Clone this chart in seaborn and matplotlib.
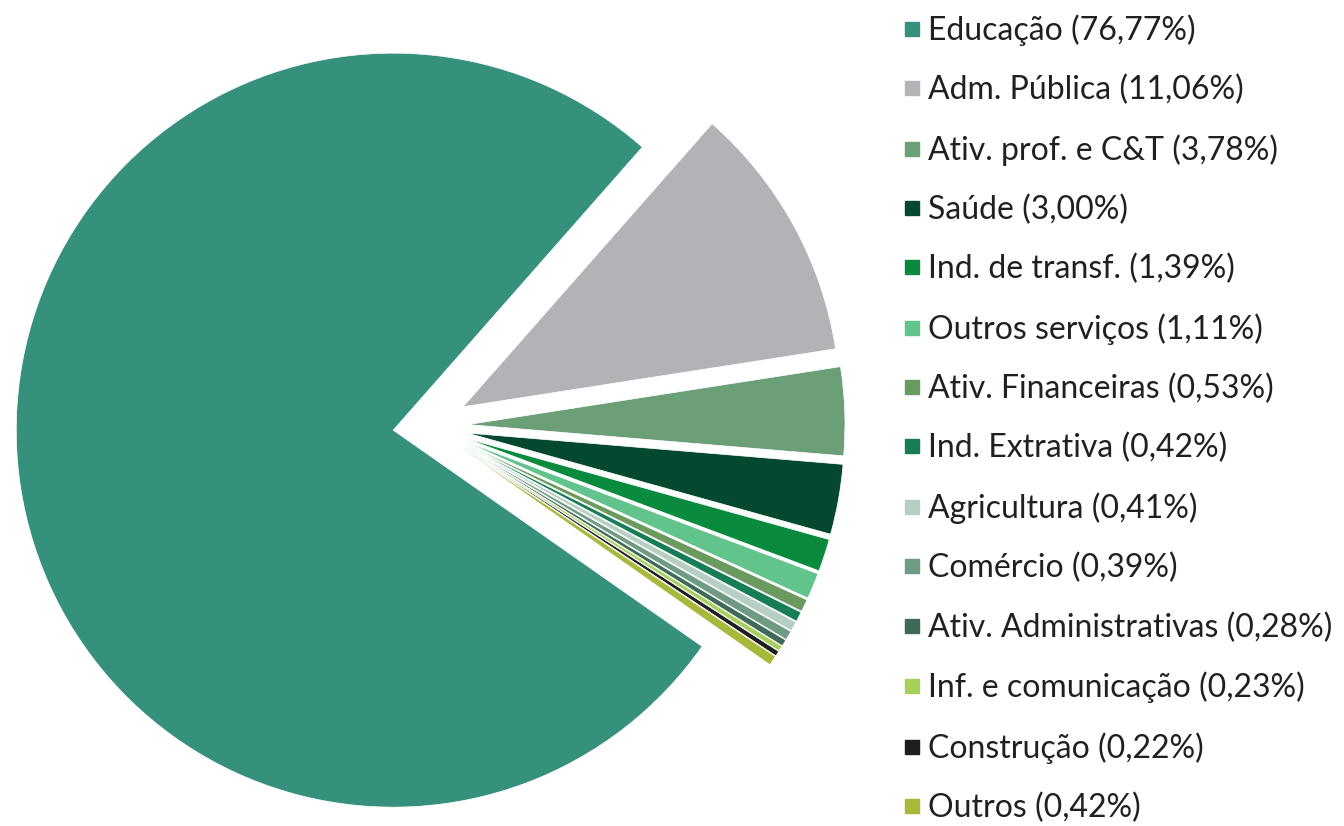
import matplotlib
matplotlib.use("Agg")
import matplotlib.pyplot as plt
import seaborn as sns
from matplotlib.lines import Line2D

sns.set_theme(style="white")
plt.rcParams['font.family'] = ['Lato', 'DejaVu Sans']

categories = ["Educação", "Adm. Pública", "Ativ. prof. e C&T", "Saúde",
              "Ind. de transf.", "Outros serviços", "Ativ. Financeiras",
              "Ind. Extrativa", "Agricultura", "Comércio",
              "Ativ. Administrativas", "Inf. e comunicação", "Construção", "Outros"]
shares = [76.77, 11.06, 3.78, 3.00, 1.39, 1.11, 0.53, 0.42, 0.41, 0.39,
          0.28, 0.23, 0.22, 0.42]
labels = ["Educação (76,77%)", "Adm. Pública (11,06%)", "Ativ. prof. e C&T (3,78%)",
          "Saúde (3,00%)", "Ind. de transf. (1,39%)", "Outros serviços (1,11%)",
          "Ativ. Financeiras (0,53%)", "Ind. Extrativa (0,42%)", "Agricultura (0,41%)",
          "Comércio (0,39%)", "Ativ. Administrativas (0,28%)",
          "Inf. e comunicação (0,23%)", "Construção (0,22%)", "Outros (0,42%)"]
colors = ["#36917C", "#B1B3B6", "#6A9F78", "#03482F", "#0A8A3F", "#62C48C",
          "#6B9A5E", "#177D56", "#B7CFC3", "#6F9A83", "#3F6A58", "#A6D05A",
          "#1E1E1E", "#A8B83A"]

W, H = 1344, 826
fig = plt.figure(figsize=(W / 100, H / 100), dpi=100)
ax = fig.add_axes([0, 0, 1, 1])

R_px = 377.0
cx, cy = 428.0, 426.0  # pie centre in image pixels (y from top)
explode = [35 / R_px] + [40 / R_px] * (len(shares) - 1)

ax.pie(shares, colors=colors, explode=explode, startangle=-35,
       counterclock=False, radius=1.0, center=(0, 0),
       wedgeprops=dict(edgecolor="white", linewidth=0.5))
ax.set_xlim(-cx / R_px, (W - cx) / R_px)
ax.set_ylim(-(H - cy) / R_px, cy / R_px)
ax.set_aspect("auto")
ax.axis("off")

handles = [Line2D([0], [0], marker="s", linestyle="none", markersize=10.5,
                  markerfacecolor=c, markeredgecolor=c) for c in colors]
leg = fig.legend(handles, labels, loc="upper left",
                 bbox_to_anchor=(899 / W, 1 - 11 / H),
                 frameon=False, fontsize=23, labelspacing=0.905,
                 handlelength=0.6, handletextpad=0.21, borderaxespad=0,
                 borderpad=0.1, labelcolor="#231F20")

fig.savefig("out.png", dpi=100, facecolor="white")
